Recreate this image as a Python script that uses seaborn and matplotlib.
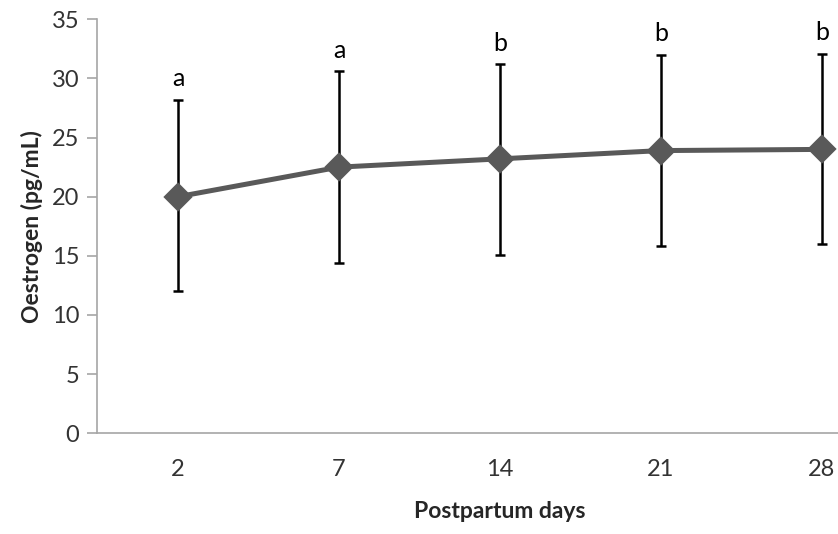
import numpy as np
import pandas as pd
import seaborn as sns
import matplotlib.pyplot as plt

# Values
days = ["2", "7", "14", "21", "28"]
oestrogen_mean = [20.0, 22.5, 23.2, 23.9, 24.0]
err_low = [12.0, 14.4, 15.1, 15.8, 16.0]
err_high = [28.2, 30.6, 31.2, 32.0, 32.1]
letters = ["a", "a", "b", "b", "b"]

df = pd.DataFrame({"day": days, "oestrogen": oestrogen_mean,
                   "low": err_low, "high": err_high, "letter": letters})

sns.set_style("white")
plt.rcParams['font.family'] = ['Lato', 'DejaVu Sans']

fig = plt.figure(figsize=(8.38, 5.34), dpi=100)
# axes run past the right edge like the cropped original
ax = fig.add_axes([0.1163, 0.1886, 0.9606, 0.7753])

sns.pointplot(data=df, x="day", y="oestrogen", order=days, errorbar=None,
              color="#595959", marker="D", markersize=12, linewidth=3.6,
              ax=ax, zorder=3)

# error bars on the categorical positions
pos = np.arange(len(days))
mean = df["oestrogen"].to_numpy()
yerr = [mean - df["low"].to_numpy(), df["high"].to_numpy() - mean]
ax.errorbar(pos, mean, yerr=yerr, fmt="none", ecolor="black",
            elinewidth=1.8, capsize=3.6, capthick=1.8, zorder=2)

# significance letters above the bars
for i, row in df.iterrows():
    ax.annotate(row["letter"], (i, row["high"]), xytext=(0, 7),
                textcoords="offset points", ha="center", va="bottom",
                fontsize=18, color="black")

ax.set_xlim(-0.5, len(days) - 0.5)
ax.set_ylim(0, 35)
ax.set_yticks(range(0, 36, 5))
ax.set_xlabel("Postpartum days", fontsize=16.5, fontweight="bold", labelpad=15)
ax.set_ylabel("Oestrogen (pg/mL)", fontsize=16.5, fontweight="bold", labelpad=6)

for side in ["top", "right"]:
    ax.spines[side].set_visible(False)
for side in ["left", "bottom"]:
    ax.spines[side].set_color("#a6a6a6")
    ax.spines[side].set_linewidth(1.2)

ax.tick_params(axis="y", which="major", left=True, length=7, width=1.2,
               color="#a6a6a6", labelsize=17, labelcolor="#333333", pad=6)
ax.tick_params(axis="x", bottom=False, labelsize=17, labelcolor="#333333", pad=15)

fig.savefig("out.png", dpi=100)
